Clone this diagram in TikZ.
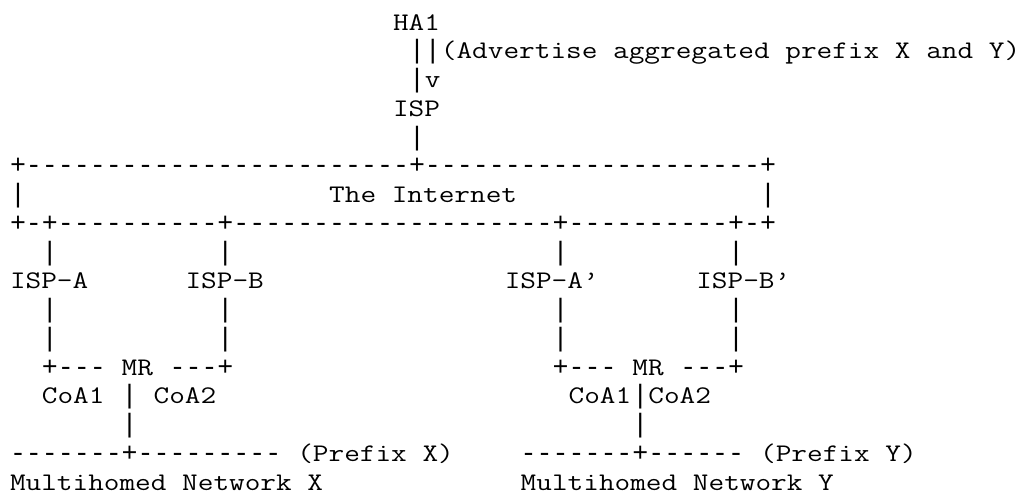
\documentclass[tikz,border=0pt]{standalone}
\usepackage{fontspec}
\setmonofont{Liberation Mono}
\usepackage{graphicx}
\ExplSyntaxOn
\cs_new:Npn \myrep #1#2 { \prg_replicate:nn {#1} {#2} }
\ExplSyntaxOff
\tikzset{
  asc/.style={anchor=base west, inner sep=0pt, outer sep=0pt,
    font=\fontfamily{lmtt}\fontsize{19pt}{21.5pt}\selectfont, text=black},
  art/.style={anchor=base west, inner sep=0pt, outer sep=0pt,
    font=\ttfamily\fontsize{19.95pt}{21.5pt}\selectfont, text=black}}
\newcommand\cellnode[4]{\node[asc] (#1) at ({7.5pt+#2*11.97pt},{-22.5pt-#3*21.5625pt}) {\scalebox{1.2}[1]{#4}};}
\newcommand\artnode[4]{\node[art] (#1) at ({7.5pt+#2*11.97pt},{-22.5pt-#3*21.5625pt}) {#4};}
\begin{document}
\begin{tikzpicture}
\fill[white] (0,0) rectangle (775.5pt,-375pt);
\useasboundingbox (0,0) rectangle (775.5pt,-375pt);
% top part
\cellnode{ha1}{24}{0}{HA1}
\artnode{upbars}{25}{1}{||}
\cellnode{advert}{27}{1}{(Advertise aggregated prefix X and Y)}
\artnode{downbar}{25}{2}{|}
\cellnode{downarrow}{26}{2}{v}
\cellnode{isp}{24}{3}{ISP}
\artnode{ispbar}{25}{4}{|}
% the Internet box
\artnode{inettop}{0}{5}{+\myrep{24}{-}+\myrep{21}{-}+}
\artnode{inetleft}{0}{6}{|}
\cellnode{inet}{20}{6}{The Internet}
\artnode{inetright}{47}{6}{|}
\artnode{inetbot}{0}{7}{+-+\myrep{10}{-}+\myrep{20}{-}+\myrep{10}{-}+-+}
% uplinks
\artnode{ua8}{2}{8}{|}
\artnode{ub8}{13}{8}{|}
\artnode{uap8}{34}{8}{|}
\artnode{ubp8}{45}{8}{|}
\cellnode{ispa}{0}{9}{ISP-A}
\cellnode{ispb}{11}{9}{ISP-B}
\cellnode{ispap}{31}{9}{ISP-A’}
\cellnode{ispbp}{43}{9}{ISP-B’}
\artnode{ua10}{2}{10}{|}
\artnode{ub10}{13}{10}{|}
\artnode{uap10}{34}{10}{|}
\artnode{ubp10}{45}{10}{|}
\artnode{ua11}{2}{11}{|}
\artnode{ub11}{13}{11}{|}
\artnode{uap11}{34}{11}{|}
\artnode{ubp11}{45}{11}{|}
% mobile routers
\artnode{mrxl}{2}{12}{+---}
\cellnode{mrx}{7}{12}{MR}
\artnode{mrxr}{10}{12}{---+}
\artnode{mryl}{34}{12}{+---}
\cellnode{mry}{39}{12}{MR}
\artnode{mryr}{42}{12}{---+}
\cellnode{coax1}{2}{13}{CoA1}
\artnode{mrxbar}{7}{13}{|}
\cellnode{coax2}{9}{13}{CoA2}
\cellnode{coay1}{35}{13}{CoA1}
\artnode{mrybar}{39}{13}{|}
\cellnode{coay2}{40}{13}{CoA2}
\artnode{netxbar}{7}{14}{|}
\artnode{netybar}{39}{14}{|}
% networks
\artnode{linkx}{0}{15}{\myrep{7}{-}+\myrep{9}{-}}
\cellnode{prefx}{18}{15}{(Prefix X)}
\artnode{linky}{32}{15}{\myrep{7}{-}+\myrep{6}{-}}
\cellnode{prefy}{47}{15}{(Prefix Y)}
\cellnode{netx}{0}{16}{Multihomed Network X}
\cellnode{nety}{32}{16}{Multihomed Network Y}
\end{tikzpicture}
\end{document}
